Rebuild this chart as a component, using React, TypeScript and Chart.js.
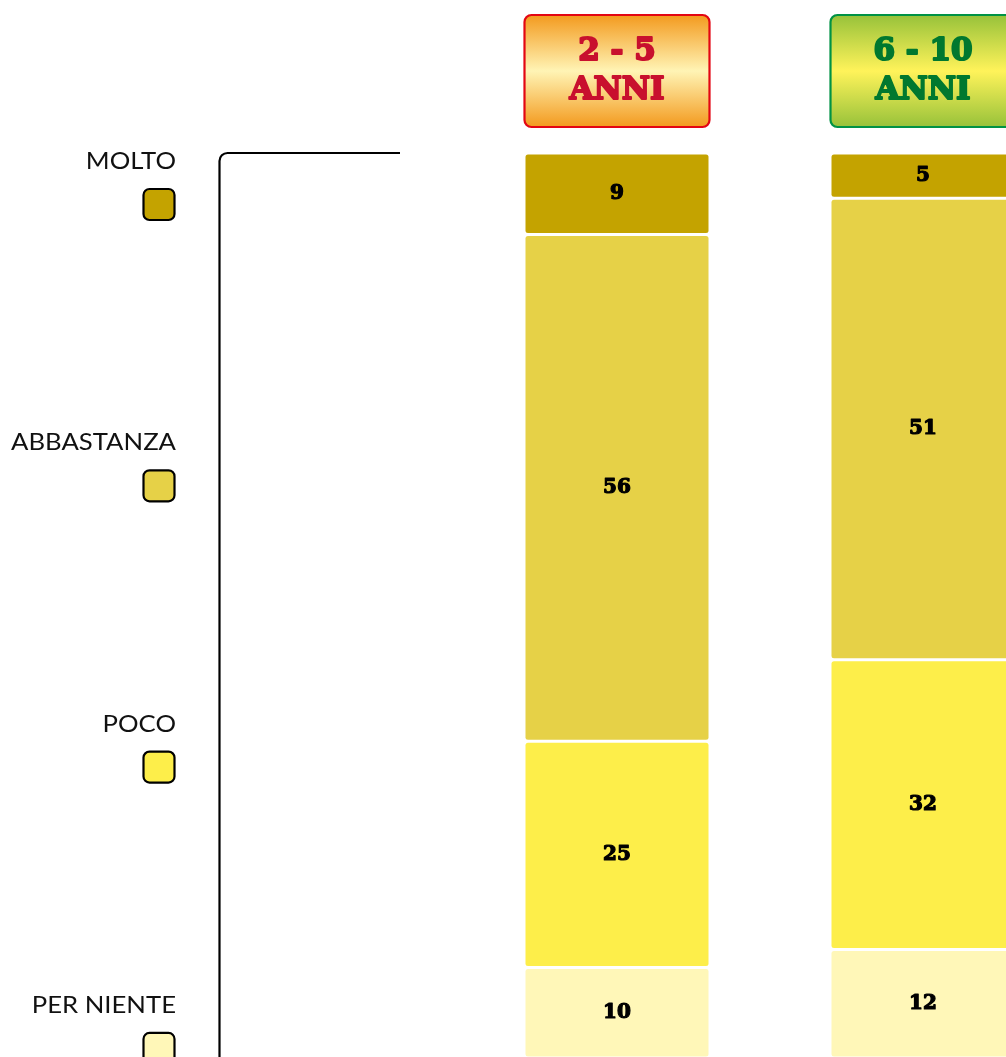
import React, { useEffect, useRef } from "react";
import { Chart, registerables } from "chart.js";

Chart.register(...registerables);

// ---- data ----
const categories = ["2 - 5 ANNI", "6 - 10 ANNI"];
const headerTop = ["2 - 5", "6 - 10"];
const headerBottom = ["ANNI", "ANNI"];
const seriesNames = ["MOLTO", "ABBASTANZA", "POCO", "PER NIENTE"];
const molto = [9, 5];
const abbastanza = [56, 51];
const poco = [25, 32];
const perNiente = [10, 12];

// ---- styles ----
const seriesColors = ["#c4a300", "#e6d147", "#fdee4a", "#fff7b8"];
const headerStyles = [
  { edge: "#f39a1e", mid: "#fff4b5", border: "#e30613", text: "#c8102e" },
  { edge: "#97c23a", mid: "#fff35a", border: "#009245", text: "#00782f" },
];

const CANVAS_W = 1100;
const CANVAS_H = 1130;

function roundRect(ctx: CanvasRenderingContext2D, x: number, y: number, w: number, h: number, r: number) {
  ctx.beginPath();
  ctx.moveTo(x + r, y);
  ctx.lineTo(x + w - r, y);
  ctx.arcTo(x + w, y, x + w, y + r, r);
  ctx.lineTo(x + w, y + h - r);
  ctx.arcTo(x + w, y + h, x + w - r, y + h, r);
  ctx.lineTo(x + r, y + h);
  ctx.arcTo(x, y + h, x, y + h - r, r);
  ctx.lineTo(x, y + r);
  ctx.arcTo(x, y, x + r, y, r);
  ctx.closePath();
}

function heavyText(ctx: CanvasRenderingContext2D, text: string, x: number, y: number, color: string, stroke: number) {
  ctx.fillStyle = color;
  ctx.strokeStyle = color;
  ctx.lineWidth = stroke;
  ctx.lineJoin = "round";
  ctx.strokeText(text, x, y);
  ctx.fillText(text, x, y);
}

const decorPlugin = {
  id: "decor",
  beforeDatasetsDraw(chart: any) {
    const ctx: CanvasRenderingContext2D = chart.ctx;
    const area = chart.chartArea;
    const xs = chart.scales.x;
    ctx.save();
    // bracket line
    ctx.strokeStyle = "#000";
    ctx.lineWidth = 2.2;
    const bx = 219.5;
    const by = area.top;
    const r = 8;
    ctx.beginPath();
    ctx.moveTo(bx, CANVAS_H);
    ctx.lineTo(bx, by + r);
    ctx.arcTo(bx, by, bx + r, by, r);
    ctx.lineTo(400, by);
    ctx.stroke();

    // legend (left)
    const spacing = 281.3;
    ctx.font = '23px "Lato", "Open Sans", sans-serif';
    const sx = 165 / ctx.measureText("ABBASTANZA").width;
    seriesNames.forEach((name, i) => {
      const cy = area.top + 8.5 + i * spacing;
      ctx.save();
      ctx.fillStyle = "#111";
      ctx.textAlign = "right";
      ctx.textBaseline = "middle";
      ctx.translate(176, cy);
      ctx.scale(sx, 1);
      ctx.fillText(name, 0, 0);
      ctx.restore();
      roundRect(ctx, 143.5, cy + 27.5, 31, 31, 6);
      ctx.fillStyle = seriesColors[i];
      ctx.fill();
      ctx.lineWidth = 2.2;
      ctx.strokeStyle = "#000";
      ctx.stroke();
    });

    // headers
    categories.forEach((_, i) => {
      const cx = xs.getPixelForValue(i);
      const w = 185;
      const h = 112;
      const x0 = cx - w / 2;
      const y0 = area.top - 138;
      const st = headerStyles[i];
      const g = ctx.createLinearGradient(0, y0, 0, y0 + h);
      g.addColorStop(0, st.edge);
      g.addColorStop(0.5, st.mid);
      g.addColorStop(1, st.edge);
      roundRect(ctx, x0, y0, w, h, 7);
      ctx.fillStyle = g;
      ctx.fill();
      ctx.lineWidth = 2.2;
      ctx.strokeStyle = st.border;
      ctx.stroke();
      ctx.font = 'bold 31px "DejaVu Serif", serif';
      ctx.textAlign = "center";
      ctx.textBaseline = "middle";
      heavyText(ctx, headerTop[i], cx, y0 + 37, st.text, 2);
      heavyText(ctx, headerBottom[i], cx, y0 + 76, st.text, 2);
    });
    ctx.restore();
  },
  afterDatasetsDraw(chart: any) {
    const ctx: CanvasRenderingContext2D = chart.ctx;
    ctx.save();
    ctx.font = 'bold 20px "DejaVu Serif", serif';
    ctx.textAlign = "center";
    ctx.textBaseline = "middle";
    chart.data.datasets.forEach((ds: any, di: number) => {
      const meta = chart.getDatasetMeta(di);
      meta.data.forEach((el: any, i: number) => {
        const yc = (el.y + el.base) / 2;
        heavyText(ctx, String(ds.data[i]), el.x, yc, "#000", 1.2);
      });
    });
    ctx.restore();
  },
};

export default function App() {
  const ref = useRef<HTMLCanvasElement>(null);
  useEffect(() => {
    if (!ref.current) return;
    const radius = { topLeft: 4, topRight: 4, bottomLeft: 4, bottomRight: 4 };
    const mk = (label: string, data: number[], color: string) => ({
      label,
      data,
      backgroundColor: color,
      borderColor: "#ffffff",
      borderWidth: 1.5,
      borderSkipped: false as const,
      borderRadius: radius,
      barPercentage: 186 / 306,
      categoryPercentage: 1,
    });
    const chart = new Chart(ref.current, {
      type: "bar",
      data: {
        labels: categories,
        datasets: [
          mk(seriesNames[3], perNiente, seriesColors[3]),
          mk(seriesNames[2], poco, seriesColors[2]),
          mk(seriesNames[1], abbastanza, seriesColors[1]),
          mk(seriesNames[0], molto, seriesColors[0]),
        ],
      },
      options: {
        responsive: false,
        animation: false,
        layout: { padding: { left: 464, right: CANVAS_W - 1076, top: 153, bottom: CANVAS_H - 1058 } },
        plugins: { legend: { display: false }, tooltip: { enabled: false } },
        scales: {
          x: { stacked: true, display: false },
          y: { stacked: true, display: false, min: 0, max: 100 },
        },
      },
      plugins: [decorPlugin],
    });
    return () => chart.destroy();
  }, []);
  return (
    <div style={{ position: "fixed", left: 0, top: 0, width: 1006, height: 1057, overflow: "hidden", background: "#fff" }}>
      <canvas ref={ref} width={CANVAS_W} height={CANVAS_H} style={{ display: "block", width: CANVAS_W, height: CANVAS_H }} />
    </div>
  );
}
